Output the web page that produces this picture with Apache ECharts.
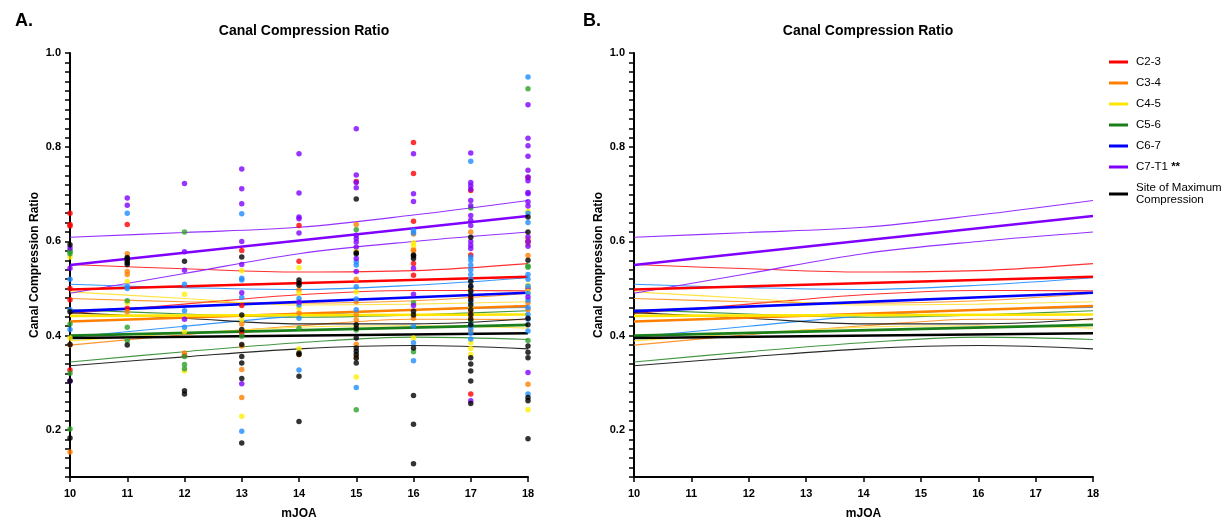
<!DOCTYPE html>
<html>
<head>
<meta charset="utf-8">
<script src="https://cdn.jsdelivr.net/npm/echarts@6/dist/echarts.min.js"></script>
<style>
html,body{margin:0;padding:0;background:#fff;}
#chart{width:1226px;height:525px;}
</style>
</head>
<body>
<div id="chart"></div>
<script>
// ---------- DATA ----------
const levelNames = ['C2-3', 'C3-4', 'C4-5', 'C5-6', 'C6-7', 'C7-T1 **', 'Site of Maximum\nCompression'];
const fitX = [10, 18];
const ciX = [10, 12, 14, 16, 18];

// regression line endpoints (mJOA 10 and 18)
const fitC23 = [0.498, 0.525];
const fitC34 = [0.430, 0.463];
const fitC45 = [0.442, 0.445];
const fitC56 = [0.400, 0.423];
const fitC67 = [0.452, 0.491];
const fitC7T1 = [0.550, 0.654];
const fitSMC = [0.395, 0.405];

// 95% confidence band curves at mJOA 10,12,14,16,18
const upC23 = [0.551, 0.542, 0.535, 0.538, 0.553];
const loC23 = [0.447, 0.467, 0.487, 0.496, 0.495];
const upC34 = [0.479, 0.472, 0.469, 0.474, 0.490];
const loC34 = [0.380, 0.402, 0.421, 0.435, 0.434];
const upC45 = [0.493, 0.479, 0.465, 0.467, 0.472];
const loC45 = [0.389, 0.405, 0.418, 0.421, 0.416];
const upC56 = [0.455, 0.446, 0.439, 0.444, 0.453];
const loC56 = [0.344, 0.366, 0.385, 0.397, 0.392];
const upC67 = [0.509, 0.502, 0.498, 0.507, 0.523];
const loC67 = [0.397, 0.420, 0.442, 0.455, 0.460];
const upC7T1 = [0.609, 0.619, 0.630, 0.656, 0.687];
const loC7T1 = [0.490, 0.532, 0.574, 0.600, 0.620];
const upSMC = [0.449, 0.437, 0.425, 0.425, 0.436];
const loSMC = [0.336, 0.355, 0.372, 0.379, 0.372];

// individual patient values: [mJOA, ratio]
const ptsC23 = [[10,0.660],[10,0.636],[10,0.633],[10,0.500],[10,0.476],[10,0.327],[11,0.636],[11,0.458],[12,0.358],
  [13,0.581],[13,0.464],[13,0.405],[14,0.634],[14,0.558],[15,0.727],[16,0.810],[16,0.744],[16,0.643],[16,0.553],[16,0.528],
  [17,0.708],[17,0.571],[17,0.480],[17,0.276],[18,0.735],[18,0.600],[18,0.500]];
const ptsC34 = [[10,0.380],[10,0.153],[11,0.574],[11,0.536],[11,0.530],[11,0.451],[12,0.363],[13,0.425],[13,0.378],[13,0.328],[13,0.269],
  [14,0.497],[14,0.448],[14,0.360],[15,0.636],[15,0.520],[15,0.472],[15,0.445],[15,0.434],[15,0.382],[15,0.355],
  [16,0.616],[16,0.583],[16,0.580],[16,0.437],[17,0.620],[17,0.500],[17,0.450],[17,0.440],[17,0.410],
  [18,0.605],[18,0.595],[18,0.570],[18,0.470],[18,0.455],[18,0.297]];
const ptsC45 = [[10,0.567],[10,0.395],[11,0.515],[11,0.470],[12,0.488],[12,0.409],[12,0.325],[13,0.538],[13,0.434],[13,0.229],
  [14,0.544],[14,0.490],[14,0.458],[14,0.372],[15,0.580],[15,0.493],[15,0.312],[16,0.597],[16,0.592],[16,0.395],
  [17,0.460],[17,0.385],[17,0.373],[17,0.360],[18,0.664],[18,0.507],[18,0.493],[18,0.243]];
const ptsC56 = [[10,0.581],[10,0.574],[10,0.578],[10,0.425],[10,0.320],[10,0.202],[11,0.474],[11,0.418],[11,0.389],
  [12,0.620],[12,0.356],[12,0.339],[12,0.330],[13,0.399],[14,0.416],[15,0.625],[15,0.412],[15,0.243],[16,0.470],[16,0.366],
  [17,0.671],[17,0.430],[18,0.924],[18,0.548],[18,0.545],[18,0.390]];
const ptsC67 = [[10,0.520],[10,0.455],[10,0.413],[11,0.660],[11,0.505],[11,0.500],[12,0.509],[12,0.453],[12,0.418],
  [13,0.659],[13,0.522],[13,0.518],[13,0.481],[13,0.197],[14,0.479],[14,0.465],[14,0.437],[14,0.327],
  [15,0.557],[15,0.550],[15,0.504],[15,0.478],[15,0.455],[15,0.290],[16,0.623],[16,0.618],[16,0.420],[16,0.385],[16,0.347],
  [17,0.770],[17,0.567],[17,0.560],[17,0.550],[17,0.540],[17,0.530],[17,0.520],[17,0.505],[17,0.490],[17,0.470],[17,0.423],[17,0.415],[17,0.405],[17,0.393],
  [18,0.949],[18,0.660],[18,0.640],[18,0.530],[18,0.520],[18,0.505],[18,0.490],[18,0.475],[18,0.460],[18,0.445],[18,0.435],[18,0.410],[18,0.276]];
const ptsC7T1 = [[10,0.586],[10,0.543],[10,0.304],[11,0.692],[11,0.677],[12,0.723],[12,0.578],[12,0.539],[12,0.435],
  [13,0.754],[13,0.712],[13,0.680],[13,0.600],[13,0.551],[13,0.491],[13,0.298],
  [14,0.786],[14,0.703],[14,0.652],[14,0.648],[14,0.618],[14,0.471],
  [15,0.839],[15,0.741],[15,0.725],[15,0.714],[15,0.613],[15,0.606],[15,0.599],[15,0.588],[15,0.564],[15,0.536],
  [16,0.786],[16,0.701],[16,0.685],[16,0.543],[16,0.488],[16,0.464],
  [17,0.788],[17,0.725],[17,0.718],[17,0.711],[17,0.687],[17,0.676],[17,0.655],[17,0.645],[17,0.634],[17,0.600],[17,0.592],[17,0.585],[17,0.262],
  [18,0.890],[18,0.819],[18,0.803],[18,0.781],[18,0.751],[18,0.737],[18,0.729],[18,0.704],[18,0.701],[18,0.684],[18,0.675],[18,0.610],[18,0.600],[18,0.590],[18,0.482],[18,0.322]];
const ptsSMC = [[10,0.593],[10,0.451],[10,0.381],[10,0.304],[10,0.183],[11,0.566],[11,0.564],[11,0.559],[11,0.555],[11,0.551],[11,0.380],
  [12,0.558],[12,0.283],[12,0.276],[13,0.567],[13,0.444],[13,0.413],[13,0.381],[13,0.356],[13,0.342],[13,0.309],[13,0.172],
  [14,0.518],[14,0.512],[14,0.507],[14,0.363],[14,0.360],[14,0.314],[14,0.218],
  [15,0.690],[15,0.576],[15,0.574],[15,0.423],[15,0.416],[15,0.395],[15,0.374],[15,0.367],[15,0.360],[15,0.352],[15,0.342],
  [16,0.571],[16,0.569],[16,0.564],[16,0.452],[16,0.444],[16,0.374],[16,0.273],[16,0.212],[16,0.128],
  [17,0.609],[17,0.515],[17,0.505],[17,0.495],[17,0.485],[17,0.475],[17,0.465],[17,0.455],[17,0.445],[17,0.435],[17,0.423],[17,0.353],[17,0.340],[17,0.325],[17,0.304],[17,0.256],
  [18,0.652],[18,0.620],[18,0.560],[18,0.437],[18,0.423],[18,0.378],[18,0.365],[18,0.353],[18,0.269],[18,0.262],[18,0.181]];

const yTickLabels = [0.2, 0.4, 0.6, 0.8, 1.0];

// ---------- STYLE ----------
const FONT = '"Liberation Sans", Arial, Helvetica, sans-serif';
const groups = [
  {name: levelNames[0], fit: fitC23, up: upC23, lo: loC23, pts: ptsC23, line: '#FF0000', ci: '#FF1a1a', dot: '#FF0000'},
  {name: levelNames[1], fit: fitC34, up: upC34, lo: loC34, pts: ptsC34, line: '#FF8000', ci: '#FF8c1a', dot: '#FF8000'},
  {name: levelNames[2], fit: fitC45, up: upC45, lo: loC45, pts: ptsC45, line: '#FFE600', ci: '#FFE033', dot: '#FFEE00'},
  {name: levelNames[3], fit: fitC56, up: upC56, lo: loC56, pts: ptsC56, line: '#1A7F1A', ci: '#2E8B2E', dot: '#2CA02C'},
  {name: levelNames[4], fit: fitC67, up: upC67, lo: loC67, pts: ptsC67, line: '#0000FF', ci: '#1E8CFF', dot: '#1E8CFF'},
  {name: levelNames[5], fit: fitC7T1, up: upC7T1, lo: loC7T1, pts: ptsC7T1, line: '#8000FF', ci: '#8A1AFF', dot: '#8000FF'},
  {name: levelNames[6], fit: fitSMC, up: upSMC, lo: loSMC, pts: ptsSMC, line: '#000000', ci: '#111111', dot: '#000000'}
];

function pair(xs, ys) { return xs.map((x, i) => [x, ys[i]]); }

const series = [];
[0, 1].forEach(gi => {
  groups.forEach(g => {
    ['up', 'lo'].forEach(k => {
      series.push({
        name: g.name + ' ' + k, type: 'line', xAxisIndex: gi, yAxisIndex: gi,
        data: pair(ciX, g[k]), smooth: 0.35, showSymbol: false, silent: true,
        lineStyle: {color: g.ci, width: 1.1, opacity: 0.9}, z: 2
      });
    });
  });
  groups.forEach(g => {
    series.push({
      name: g.name, type: 'line', xAxisIndex: gi, yAxisIndex: gi,
      data: pair(fitX, g.fit), showSymbol: false, silent: true,
      color: g.line,
      lineStyle: {color: g.line, width: 2.6}, z: 3
    });
  });
});
groups.forEach(g => {
  series.push({
    name: g.name + ' points', type: 'scatter', xAxisIndex: 0, yAxisIndex: 0,
    data: g.pts, symbolSize: 5.5, itemStyle: {color: g.dot}, z: 4, silent: true
  });
});

function xAxisCfg(gi) {
  return {
    type: 'value', gridIndex: gi, min: 10, max: 18, interval: 1,
    name: 'mJOA', nameLocation: 'middle', nameGap: 31,
    nameTextStyle: {fontFamily: FONT, fontWeight: 'bold', fontSize: 12, color: '#000'},
    axisLine: {show: true, onZero: false, lineStyle: {color: '#000', width: 2}},
    axisTick: {show: true, length: 5, lineStyle: {color: '#000', width: 1.5}},
    axisLabel: {fontFamily: FONT, fontWeight: 'bold', fontSize: 11, color: '#000', margin: 11},
    splitLine: {show: false}
  };
}
function yAxisCfg(gi) {
  return {
    type: 'value', gridIndex: gi, min: 0.1, max: 1.0, interval: 0.02,
    name: 'Canal Compression Ratio', nameLocation: 'middle', nameGap: 29, nameRotate: 90,
    nameTextStyle: {fontFamily: FONT, fontWeight: 'bold', fontSize: 12, color: '#000'},
    axisLine: {show: true, onZero: false, lineStyle: {color: '#000', width: 2}},
    axisTick: {show: true, length: 5, lineStyle: {color: '#000', width: 1.5}},
    axisLabel: {
      fontFamily: FONT, fontWeight: 'bold', fontSize: 11, color: '#000', margin: 9,
      formatter: v => {
        const hit = yTickLabels.find(t => Math.abs(t - v) < 1e-6);
        return hit !== undefined ? hit.toFixed(1) : '';
      }
    },
    splitLine: {show: false}
  };
}

const option = {
  backgroundColor: '#fff',
  animation: false,
  title: [
    {text: 'A.', left: 10, top: 7, textStyle: {fontFamily: FONT, fontWeight: 'bold', fontSize: 18, color: '#000'}},
    {text: 'B.', left: 578, top: 7, textStyle: {fontFamily: FONT, fontWeight: 'bold', fontSize: 18, color: '#000'}},
    {text: 'Canal Compression Ratio', left: 299, top: 19, textAlign: 'center',
     textStyle: {fontFamily: FONT, fontWeight: 'bold', fontSize: 14, color: '#000'}},
    {text: 'Canal Compression Ratio', left: 863, top: 19, textAlign: 'center',
     textStyle: {fontFamily: FONT, fontWeight: 'bold', fontSize: 14, color: '#000'}}
  ],
  legend: {
    orient: 'vertical', left: 1104, top: 51, itemGap: 9,
    itemWidth: 19, itemHeight: 3, icon: 'rect',
    data: levelNames,
    selectedMode: false,
    textStyle: {
      fontFamily: FONT, fontSize: 11.5, color: '#000', lineHeight: 12, padding: [0, 0, 0, 3],
      rich: {b: {fontFamily: FONT, fontSize: 11.5, fontWeight: 'bold', color: '#000'}}
    },
    formatter: n => n === 'C7-T1 **' ? 'C7-T1 {b|**}' : n
  },
  grid: [
    {left: 70, top: 53, width: 458, height: 427, containLabel: false},
    {left: 634, top: 53, width: 459, height: 427, containLabel: false}
  ],
  xAxis: [xAxisCfg(0), xAxisCfg(1)],
  yAxis: [yAxisCfg(0), yAxisCfg(1)],
  series: series
};

const chart = echarts.init(document.getElementById('chart'), null, {renderer: 'canvas'});
chart.setOption(option);
</script>
</body>
</html>
